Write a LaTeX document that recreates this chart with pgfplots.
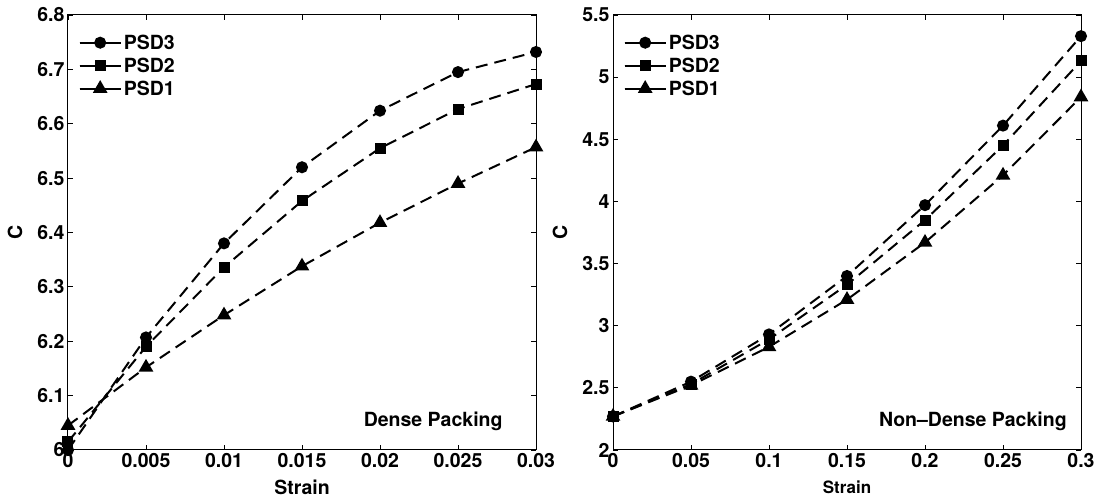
\documentclass[border=0pt]{standalone}
\usepackage{pgfplots}
\pgfplotsset{compat=1.18}
\usepackage{fontspec}
\setmainfont{TeX Gyre Heros}
\newcommand{\bigf}{\fontsize{19.5}{23}\selectfont\bfseries}
\begin{document}
\begin{tikzpicture}
\useasboundingbox (-68pt,-50pt) rectangle (1034pt,450pt);
\pgfplotsset{
  mystyle/.style={
    scale only axis, width=468pt, height=435pt,
    /pgf/number format/assume math mode=true,
    tick label style={font=\bigf},
    label style={font=\bigf},
    tick align=inside, major tick length=5pt,
    axis line style={line width=1pt}, every tick/.style={line width=0.8pt, black},
    legend style={draw=none, fill=none, at={(axis description cs:0.02,0.962)}, anchor=north west,
      font=\bigf, row sep=3pt, inner sep=1pt},
    legend cell align=left,
    legend image code/.code={\draw[solid,line width=1.8pt] (0cm,0cm) -- (1.45cm,0cm);
      \draw[solid,mark repeat=2,mark phase=2] plot coordinates {(0cm,0cm) (0.725cm,0cm) (1.45cm,0cm)};},
    scaled ticks=false,
    xlabel style={at={(axis description cs:0.5,0)}, anchor=center, yshift=-37pt},
    ylabel style={at={(axis description cs:-0.113,0.5)}, anchor=center},
    clip=false,
  },
  myline/.style={black, line width=2pt, dash pattern=on 12pt off 7pt, mark options={solid}, mark size=5pt},
}
\begin{axis}[mystyle,
  xmin=0, xmax=0.03, ymin=6, ymax=6.8,
  xtick={0,0.005,0.01,0.015,0.02,0.025,0.03},
  xticklabels={0,0.005,0.01,0.015,0.02,0.025,0.03},
  ytick={6,6.1,6.2,6.3,6.4,6.5,6.6,6.7,6.8},
  yticklabels={6,6.1,6.2,6.3,6.4,6.5,6.6,6.7,6.8},
  xlabel={Strain}, ylabel={C},
]
\addplot[myline, mark=*] coordinates {(0,6.0) (0.005,6.207) (0.01,6.38) (0.015,6.52) (0.02,6.624) (0.025,6.695) (0.03,6.732)};
\addlegendentry{PSD3}
\addplot[myline, mark=square*, mark size=4.5pt] coordinates {(0,6.015) (0.005,6.19) (0.01,6.336) (0.015,6.458) (0.02,6.555) (0.025,6.627) (0.03,6.673)};
\addlegendentry{PSD2}
\addplot[myline, mark=triangle*, mark size=6.5pt] coordinates {(0,6.045) (0.005,6.152) (0.01,6.248) (0.015,6.338) (0.02,6.418) (0.025,6.49) (0.03,6.557)};
\addlegendentry{PSD1}
\node[anchor=base east, font=\bigf] at (axis description cs:0.936,0.053) {Dense Packing};
\end{axis}
\begin{axis}[mystyle,
  xshift=545pt,
  xmin=0, xmax=0.3, ymin=2, ymax=5.5,
  xtick={0,0.05,0.1,0.15,0.2,0.25,0.3},
  xticklabels={0,0.05,0.1,0.15,0.2,0.25,0.3},
  ytick={2,2.5,3,3.5,4,4.5,5,5.5},
  yticklabels={2,2.5,3,3.5,4,4.5,5,5.5},
  xlabel={Strain}, ylabel={C},
  xlabel style={font=\fontsize{17}{20}\selectfont\bfseries},
]
\addplot[myline, mark=*] coordinates {(0,2.27) (0.05,2.55) (0.1,2.93) (0.15,3.40) (0.2,3.97) (0.25,4.61) (0.3,5.33)};
\addlegendentry{PSD3}
\addplot[myline, mark=square*, mark size=4.5pt] coordinates {(0,2.27) (0.05,2.53) (0.1,2.89) (0.15,3.33) (0.2,3.85) (0.25,4.45) (0.3,5.13)};
\addlegendentry{PSD2}
\addplot[myline, mark=triangle*, mark size=6.5pt] coordinates {(0,2.27) (0.05,2.52) (0.1,2.83) (0.15,3.21) (0.2,3.67) (0.25,4.21) (0.3,4.84)};
\addlegendentry{PSD1}
\node[anchor=base east, font=\bigf] at (axis description cs:0.977,0.053) {Non\textendash Dense Packing};
\end{axis}
\end{tikzpicture}
\end{document}
